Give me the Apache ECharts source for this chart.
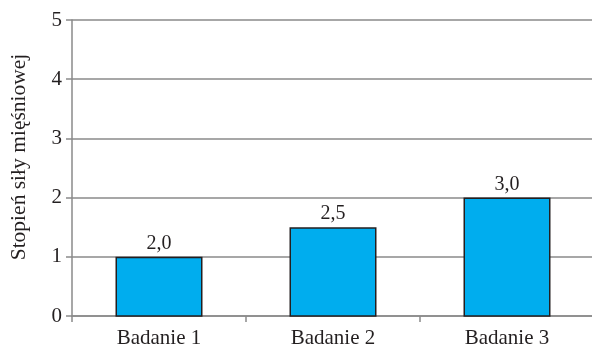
<!DOCTYPE html>
<html>
<head>
<meta charset="utf-8">
<script src="https://cdn.jsdelivr.net/npm/echarts@6/dist/echarts.min.js"></script>
<style>
  html, body { margin: 0; padding: 0; background: #fff; }
  #chart { width: 592px; height: 349px; }
</style>
</head>
<body>
<div id="chart"></div>
<script>
// Muscle strength grade per examination
const categories = ['Badanie 1', 'Badanie 2', 'Badanie 3'];
const values = [2.0, 2.5, 3.0];
// The scale is shifted by one: grade 1 sits at the axis baseline
const axisOffset = 1;
const axisMin = 1;
const axisMax = 6;

const FONT = 'Liberation Serif';
const TEXT = '#231f20';
const LINE = '#8a8a8a';
const chart = echarts.init(document.getElementById('chart'));
chart.setOption({
  animation: false,
  grid: { left: 72, right: -2, top: 20, bottom: 33, outerBoundsMode: 'none', containLabel: false },
  xAxis: {
    type: 'category',
    data: categories,
    axisLine: { lineStyle: { color: LINE, width: 1.5 } },
    axisTick: { show: true, length: 6, lineStyle: { color: LINE, width: 1.5 } },
    axisLabel: { color: TEXT, fontFamily: FONT, fontSize: 21, margin: 12 }
  },
  yAxis: {
    type: 'value',
    min: axisMin,
    max: axisMax,
    interval: 1,
    name: 'Stopień siły mięśniowej',
    nameLocation: 'middle',
    nameRotate: 90,
    nameGap: 42,
    nameTextStyle: { color: TEXT, fontFamily: FONT, fontSize: 21.5, padding: [0, 0, 0, 22] },
    axisLine: { show: true, lineStyle: { color: LINE, width: 1.5 } },
    axisTick: { show: true, length: 6, lineStyle: { color: LINE, width: 1.5 } },
    splitLine: { show: true, lineStyle: { color: LINE, width: 1.5 } },
    axisLabel: {
      color: TEXT, fontFamily: FONT, fontSize: 21, margin: 10,
      formatter: v => String(v - axisOffset)
    }
  },
  series: [{
    type: 'bar',
    data: values,
    barWidth: '50%',
    itemStyle: { color: '#00adee', borderColor: TEXT, borderWidth: 1.5 },
    label: {
      show: true,
      position: 'top',
      distance: 3,
      color: TEXT,
      fontFamily: FONT,
      fontSize: 20,
      formatter: p => p.value.toFixed(1).replace('.', ',')
    }
  }]
});
</script>
</body>
</html>
